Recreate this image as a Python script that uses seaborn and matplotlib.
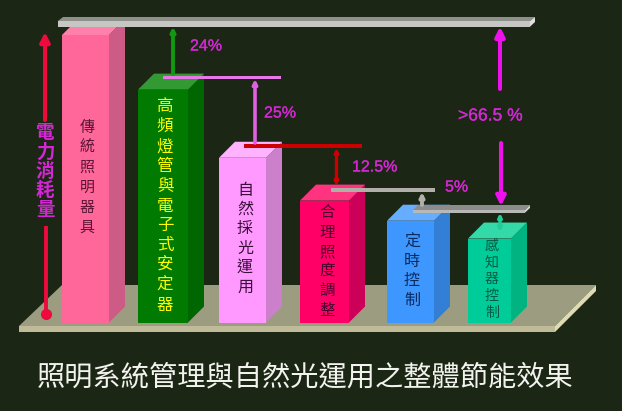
import matplotlib
matplotlib.use("Agg")
import matplotlib.pyplot as plt
import matplotlib.patheffects as pe
from matplotlib.patches import Polygon
import seaborn as sns

# values, tallest bar = 100
categories = ["傳統照明器具", "高頻燈管與電子式安定器", "自然採光運用", "合理照度調整", "定時控制", "感知器控制"]
power = [100, 81, 57.3, 42.4, 35.4, 29.2]
savings = ["24%", "25%", "12.5%", "5%", ">66.5 %"]
y_title = "電力消耗量"
title = "照明系統管理與自然光運用之整體節能效果"

# look of the bars
front = ["#ff6699", "#007a00", "#ff99ff", "#ff0066", "#3d97ff", "#00cc99"]
side = ["#cc5c85", "#006600", "#cc80cc", "#cc0058", "#337fd6", "#00b380"]
top = ["#ff80aa", "#339933", "#ffb3ff", "#ff3380", "#66adff", "#33d9a8"]
text_col = ["#5a1535", "#ffff00", "#3a103a", "#500030", "#0a2a60", "#075a45"]
lefts = [62, 138, 219, 300, 387, 468]
widths = [47, 50, 47, 49, 47, 43]
label_y = [128, 107, 190, 213, 242, 246]
label_step = [20, 19.8, 19.4, 19.4, 19.4, 16.7]
label_px = [15, 16.5, 16, 15.5, 16, 14]
label_x = [87, 165, 245, 327, 412, 492]

BG = "#1b2614"
MAG = "#d426d4"
DEPTH = 16
BASE = 322.5
SCALE = (BASE - 35) / 100
CJK = ["Noto Sans CJK TC", "DejaVu Sans"]


def Y(py):
    # picture row -> value on the y axis
    return (BASE - py) / SCALE


def poly(ax, pts, color, z):
    ax.add_patch(Polygon([(x, Y(y)) for x, y in pts], closed=True, fc=color, ec="none", zorder=z))


def px(n):
    return n * 0.72


def arrow(ax, x, y0, y1, color, lw=2.8, style="-|>", scale=6):
    ax.annotate("", xy=(x, Y(y1)), xytext=(x, Y(y0)), zorder=6,
                arrowprops=dict(arrowstyle=style, color=color, lw=lw, shrinkA=0, shrinkB=0,
                                mutation_scale=scale))


def hbar(ax, x0, x1, y, h, color):
    poly(ax, [(x0, y), (x1, y), (x1, y + h), (x0, y + h)], color, 5)


sns.set_theme(style="white")
fig, ax = plt.subplots(figsize=(6.22, 4.11), dpi=100, facecolor=BG)
ax.set_position([0, 0, 1, 1])
ax.set_facecolor(BG)

sns.barplot(x=categories, y=power, hue=categories, palette=front, saturation=1,
            legend=False, ax=ax, zorder=3)
ax.set_xlim(0, 622)
ax.set_ylim(Y(411), Y(0))
ax.axis("off")

# floor
poly(ax, [(19, 326), (62, 285), (596, 285), (555, 326)], "#9c9c80", 1)
poly(ax, [(19, 326), (555, 326), (555, 332), (19, 332)], "#bfbb98", 1)
poly(ax, [(555, 326), (596, 285), (596, 291), (555, 332)], "#dedcb4", 1)

# bars get their 3d faces from the drawn rectangles
for i, bar in enumerate(ax.patches[:len(categories)]):
    bar.set_x(lefts[i])
    bar.set_width(widths[i])
    bar.set_linewidth(0)
    l, r = lefts[i], lefts[i] + widths[i]
    t = BASE - bar.get_height() * SCALE
    poly(ax, [(r, t), (r + DEPTH, t - DEPTH), (r + DEPTH, BASE - DEPTH), (r, BASE)], side[i], 3)
    poly(ax, [(l, t), (l + DEPTH, t - DEPTH), (r + DEPTH, t - DEPTH), (r, t)], top[i], 3)
    for j, ch in enumerate(categories[i]):
        ax.text(label_x[i], Y(label_y[i] + j * label_step[i]), ch, color=text_col[i], ha="center",
                va="center", fontsize=px(label_px[i]), family=CJK, zorder=4)

# top shelf
poly(ax, [(58, 21), (63, 17), (535, 17), (530, 21)], "#8f8f8c", 5)
poly(ax, [(58, 21), (530, 21), (530, 26.7), (58, 26.7)], "#c6c6c2", 5)
poly(ax, [(530, 21), (535, 17), (535, 22), (530, 26.7)], "#e0e0dc", 5)

# lower shelf
poly(ax, [(413, 210), (418, 205), (530, 205), (525, 210)], "#8c8c8c", 5)
poly(ax, [(413, 210), (525, 210), (525, 212.7), (413, 212.7)], "#b8b8b4", 5)
poly(ax, [(525, 210), (530, 205), (530, 208), (525, 212.7)], "#d0d0cc", 5)

# steps between the bars
arrow(ax, 173, 74, 26.7, "#119911")
hbar(ax, 163, 281, 76, 3, "#e878e8")
arrow(ax, 255, 143, 79, "#e060e0", lw=2.6)
hbar(ax, 244, 362, 144.5, 3.5, "#cc0000")
arrow(ax, 336.5, 186, 148, "#cc0000", lw=2.4, style="<|-|>", scale=5)
hbar(ax, 331, 435, 188, 4, "#b0b0a8")
arrow(ax, 422, 205, 192, "#b0b0a8")
arrow(ax, 500, 232, 213, "#22cc99", lw=2.4, style="<|-|>", scale=5)

# total saving
arrow(ax, 500, 89, 26.7, "#ee11ee", lw=2.9, scale=14)
arrow(ax, 501, 143, 206, "#ee11ee", lw=2.9, scale=14)

# power axis arrow, split by its title
arrow(ax, 45, 120, 32, "#ee0a3c", lw=2.9, scale=14)
ax.plot([45.5, 45.5], [Y(226), Y(314)], color="#ee0a3c", lw=2.8, zorder=5, solid_capstyle="butt")
ax.plot([45.5], [Y(314)], "o", color="#ee0a3c", ms=7, zorder=5)
for j, ch in enumerate(y_title):
    ax.text(45, Y(133 + j * 19), ch, color=MAG, ha="center", va="center", fontsize=px(18.5),
            family=CJK, weight="bold", zorder=5)

sav_x = [190, 264, 352, 445, 458]
sav_y = [46, 113, 167, 187, 116]
sav_px = [16, 16, 16, 16, 17.5]
for s, x, y, n in zip(savings, sav_x, sav_y, sav_px):
    ax.text(x, Y(y), s, color=MAG, ha="left", va="center", fontsize=px(n),
            family="Liberation Sans", zorder=6,
            path_effects=[pe.withStroke(linewidth=0.2, foreground=MAG)])

ax.text(305, Y(377), title, color="#f2f2ee", ha="center", va="center", fontsize=px(28.2),
        family=CJK, zorder=6)

fig.savefig("out.png", dpi=100, facecolor=BG)
